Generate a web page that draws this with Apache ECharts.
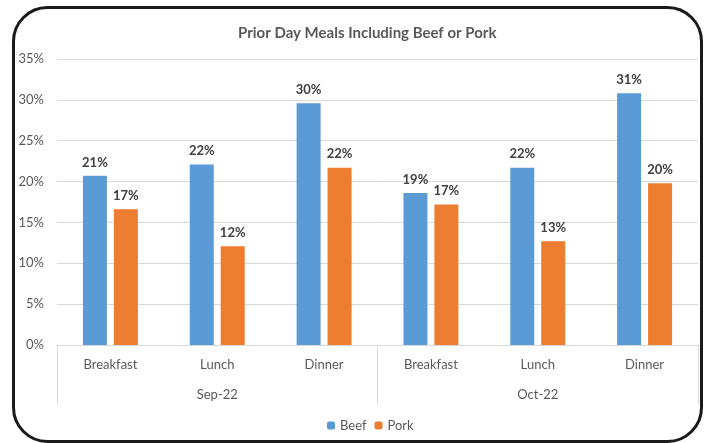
<!DOCTYPE html>
<html>
<head>
<meta charset="utf-8">
<script src="https://cdn.jsdelivr.net/npm/echarts@6/dist/echarts.min.js"></script>
<style>
  html, body { margin: 0; padding: 0; background: #fff; }
  #chart { width: 706px; height: 443px; }
</style>
</head>
<body>
<div id="chart"></div>
<script>
// Share of prior-day meals that included beef or pork, by meal and survey month
const meals = ['Breakfast', 'Lunch', 'Dinner', 'Breakfast', 'Lunch', 'Dinner'];
const months = ['Sep-22', 'Oct-22'];
const beef = [20.7, 22.1, 29.6, 18.6, 21.7, 30.8];
const pork = [16.6, 12.1, 21.7, 17.2, 12.7, 19.8];
const yTicks = [0, 5, 10, 15, 20, 25, 30, 35];

const FONT = 'Lato, "Open Sans", sans-serif';
const chart = echarts.init(document.getElementById('chart'));

const labelStyle = {
  show: true,
  position: 'top',
  distance: 7,
  fontFamily: FONT,
  fontSize: 13,
  fontWeight: 'bold',
  color: '#404040',
  formatter: p => Math.round(p.value) + '%'
};

chart.setOption({
  animation: false,
  title: {
    text: 'Prior Day Meals Including Beef or Pork',
    left: 233,
    top: 21,
    textStyle: { fontFamily: FONT, fontSize: 15, fontWeight: 'bold', color: '#595959' }
  },
  graphic: [{
    type: 'rect',
    shape: { x: 13.5, y: 7.5, width: 688, height: 434, r: 34 },
    style: { fill: 'none', stroke: '#1a1a1a', lineWidth: 3 },
    z: 100
  }],
  legend: {
    data: ['Beef', 'Pork'],
    left: 322,
    top: 414,
    itemWidth: 8,
    itemHeight: 8,
    itemGap: 8,
    textStyle: { fontFamily: FONT, fontSize: 13, color: '#595959' }
  },
  grid: { left: 57, right: 8, top: 59, bottom: 98 },
  xAxis: [{
    type: 'category',
    data: meals,
    axisLine: { lineStyle: { color: '#d9d9d9' } },
    axisTick: { show: false },
    axisLabel: { margin: 13, fontFamily: FONT, fontSize: 13, color: '#595959' }
  }, {
    type: 'category',
    data: months,
    position: 'bottom',
    axisLine: { show: false },
    axisTick: { show: true, length: 59, lineStyle: { color: '#d9d9d9' } },
    axisLabel: { margin: 43, fontFamily: FONT, fontSize: 13, color: '#595959' }
  }],
  yAxis: {
    type: 'value',
    min: yTicks[0],
    max: yTicks[yTicks.length - 1],
    interval: 5,
    axisLine: { show: false },
    axisTick: { show: false },
    splitLine: { lineStyle: { color: '#d9d9d9' } },
    axisLabel: { margin: 13, fontFamily: FONT, fontSize: 13, color: '#595959', formatter: '{value}%' }
  },
  series: [{
    name: 'Beef',
    type: 'bar',
    xAxisIndex: 0,
    data: beef,
    barWidth: 24,
    barGap: '29%',
    itemStyle: { color: '#5B9BD5' },
    label: labelStyle
  }, {
    name: 'Pork',
    type: 'bar',
    xAxisIndex: 0,
    data: pork,
    barWidth: 24,
    barGap: '29%',
    itemStyle: { color: '#ED7D31' },
    label: labelStyle
  }]
});
</script>
</body>
</html>
